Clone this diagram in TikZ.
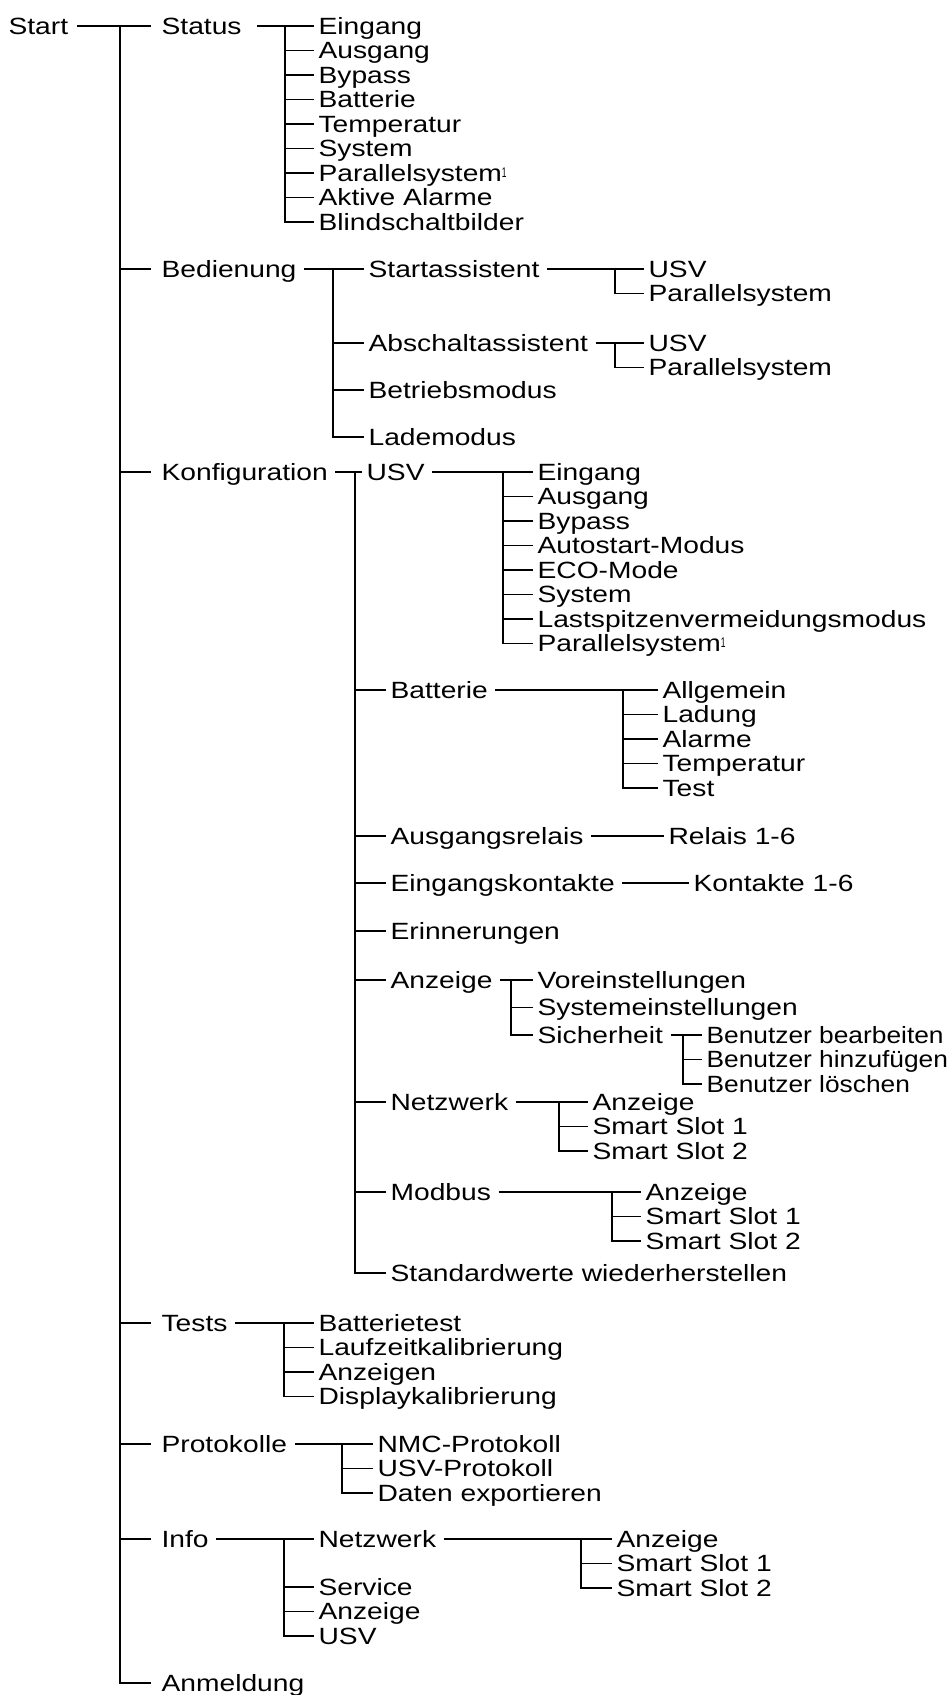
\documentclass[tikz,border=0pt]{standalone}
\usepackage{fontspec}
\setmainfont[FakeStretch=1.2]{Liberation Sans}
\newfontfamily\schmal[FakeStretch=1.12]{Liberation Sans}
\usepackage{tikz}
\usetikzlibrary{positioning}

\newcommand{\hochEins}{\raisebox{4pt}{\scalebox{0.5}[1]{\fontsize{14}{14}\selectfont 1}}}

\tikzset{
  item/.style={anchor=west, inner xsep=4pt, inner ysep=0pt,
    text height=21pt, text depth=4.2pt,
    font=\fontsize{23.5}{26}\selectfont},
  narrow/.style={font=\fontsize{23.5}{26}\schmal},
  under/.style={below=24.5pt of #1.west, anchor=west},
  link/.style={shorten <=3pt}
}

\begin{document}
\begin{tikzpicture}[line width=1.2pt]
        \useasboundingbox (0,0) rectangle (947pt,-1695pt);
        \node[item] (start) at (4pt,-26pt) {Start};

        % Hauptmenue
        \node[item, right=153pt of start.west] (status) {Status};
        \node[item, below=243pt of status.west, anchor=west] (bed) {Bedienung};
        \node[item, below=203pt of bed.west, anchor=west] (konf) {Konfiguration};
        \node[item, below=851pt of konf.west, anchor=west] (tests) {Tests};
        \node[item, below=121pt of tests.west, anchor=west] (prot) {Protokolle};
        \node[item, below=95pt of prot.west, anchor=west] (info) {Info};
        \node[item, below=144pt of info.west, anchor=west] (anm) {Anmeldung};

        % Status
        \node[item, right=157pt of status.west] (st1) {Eingang};
        \node[item, under=st1] (st2) {Ausgang};
        \node[item, under=st2] (st3) {Bypass};
        \node[item, under=st3] (st4) {Batterie};
        \node[item, under=st4] (st5) {Temperatur};
        \node[item, under=st5] (st6) {System};
        \node[item, under=st6] (st7) {Parallelsystem\hochEins};
        \node[item, under=st7] (st8) {Aktive Alarme};
        \node[item, under=st8] (st9) {Blindschaltbilder};

        % Bedienung
        \node[item, right=207pt of bed.west] (b1) {Startassistent};
        \node[item, below=74pt of b1.west, anchor=west] (b2) {Abschaltassistent};
        \node[item, below=47pt of b2.west, anchor=west] (b3) {Betriebsmodus};
        \node[item, below=47pt of b3.west, anchor=west] (b4) {Lademodus};
        \node[item, right=280pt of b1.west] (b1a) {USV};
        \node[item, under=b1a] (b1b) {Parallelsystem};
        \node[item, right=280pt of b2.west] (b2a) {USV};
        \node[item, under=b2a] (b2b) {Parallelsystem};

        % Konfiguration
        \node[item, right=205pt of konf.west] (k1) {USV};
        \node[item, below=218pt of k1.west, anchor=west, xshift=24pt] (k2) {Batterie};
        \node[item, below=146pt of k2.west, anchor=west] (k3) {Ausgangsrelais};
        \node[item, below=47pt of k3.west, anchor=west] (k4) {Eingangskontakte};
        \node[item, below=48pt of k4.west, anchor=west] (k5) {Erinnerungen};
        \node[item, below=49pt of k5.west, anchor=west] (k6) {Anzeige};
        \node[item, below=122pt of k6.west, anchor=west] (k7) {Netzwerk};
        \node[item, below=90pt of k7.west, anchor=west] (k8) {Modbus};
        \node[item, below=81pt of k8.west, anchor=west] (k9) {Standardwerte wiederherstellen};

        \node[item, right=171pt of k1.west] (u1) {Eingang};
        \node[item, under=u1] (u2) {Ausgang};
        \node[item, under=u2] (u3) {Bypass};
        \node[item, under=u3] (u4) {Autostart-Modus};
        \node[item, under=u4] (u5) {ECO-Mode};
        \node[item, under=u5] (u6) {System};
        \node[item, under=u6] (u7) {Lastspitzenvermeidungsmodus};
        \node[item, under=u7] (u8) {Parallelsystem\hochEins};

        \node[item, right=272pt of k2.west] (bt1) {Allgemein};
        \node[item, under=bt1] (bt2) {Ladung};
        \node[item, under=bt2] (bt3) {Alarme};
        \node[item, under=bt3] (bt4) {Temperatur};
        \node[item, under=bt4] (bt5) {Test};

        \node[item, right=278pt of k3.west] (rel) {Relais 1-6};
        \node[item, right=303pt of k4.west] (kon) {Kontakte 1-6};

        \node[item, right=147pt of k6.west] (a1) {Voreinstellungen};
        \node[item, below=27.5pt of a1.west, anchor=west] (a2) {Systemeinstellungen};
        \node[item, below=27.5pt of a2.west, anchor=west] (a3) {Sicherheit};
        \node[item, narrow, right=169pt of a3.west] (s1) {Benutzer bearbeiten};
        \node[item, narrow, under=s1] (s2) {Benutzer hinzufügen};
        \node[item, narrow, under=s2] (s3) {Benutzer löschen};

        \node[item, right=202pt of k7.west] (n1) {Anzeige};
        \node[item, under=n1] (n2) {Smart Slot 1};
        \node[item, under=n2] (n3) {Smart Slot 2};

        \node[item, right=255pt of k8.west] (m1) {Anzeige};
        \node[item, under=m1] (m2) {Smart Slot 1};
        \node[item, under=m2] (m3) {Smart Slot 2};

        % Tests, Protokolle, Info
        \node[item, right=157pt of tests.west] (t1) {Batterietest};
        \node[item, under=t1] (t2) {Laufzeitkalibrierung};
        \node[item, under=t2] (t3) {Anzeigen};
        \node[item, under=t3] (t4) {Displaykalibrierung};

        \node[item, right=216pt of prot.west] (p1) {NMC-Protokoll};
        \node[item, under=p1] (p2) {USV-Protokoll};
        \node[item, under=p2] (p3) {Daten exportieren};

        \node[item, right=157pt of info.west] (i1) {Netzwerk};
        \node[item, below=48pt of i1.west, anchor=west] (i2) {Service};
        \node[item, under=i2] (i3) {Anzeige};
        \node[item, under=i3] (i4) {USV};
        \node[item, right=298pt of i1.west] (in1) {Anzeige};
        \node[item, under=in1] (in2) {Smart Slot 1};
        \node[item, under=in2] (in3) {Smart Slot 2};

        % Verbindungen
        \draw[shorten <=4pt, shorten >=6pt] (start.east) -- (status.west);
        \draw ([xshift=-37pt]status.west) |- ([xshift=-6pt]anm.west);
        \draw ([xshift=-37pt]bed.west) -- ([xshift=-6pt]bed.west);
        \draw ([xshift=-37pt]konf.west) -- ([xshift=-6pt]konf.west);
        \draw ([xshift=-37pt]tests.west) -- ([xshift=-6pt]tests.west);
        \draw ([xshift=-37pt]prot.west) -- ([xshift=-6pt]prot.west);
        \draw ([xshift=-37pt]info.west) -- ([xshift=-6pt]info.west);

        \draw[shorten <=11pt] (status.east) -- (st1.west);
        \draw ([xshift=-29pt]st1.west) |- (st9.west);
        \draw (st2.west) -- ++(-29pt,0);
        \draw (st3.west) -- ++(-29pt,0);
        \draw (st4.west) -- ++(-29pt,0);
        \draw (st5.west) -- ++(-29pt,0);
        \draw (st6.west) -- ++(-29pt,0);
        \draw (st7.west) -- ++(-29pt,0);
        \draw (st8.west) -- ++(-29pt,0);

        \draw[link] (bed.east) -- (b1.west);
        \draw ([xshift=-31pt]b1.west) |- (b4.west);
        \draw (b2.west) -- ++(-31pt,0);
        \draw (b3.west) -- ++(-31pt,0);
        \draw[link] (b1.east) -- (b1a.west);
        \draw ([xshift=-29pt]b1a.west) |- (b1b.west);
        \draw[link] (b2.east) -- (b2a.west);
        \draw ([xshift=-29pt]b2a.west) |- (b2b.west);

        \draw[link] (konf.east) -- (k1.west);
        \draw ([xshift=-7pt]k1.west) |- (k9.west);
        \draw (k2.west) -- ++(-31pt,0);
        \draw (k3.west) -- ++(-31pt,0);
        \draw (k4.west) -- ++(-31pt,0);
        \draw (k5.west) -- ++(-31pt,0);
        \draw (k6.west) -- ++(-31pt,0);
        \draw (k7.west) -- ++(-31pt,0);
        \draw (k8.west) -- ++(-31pt,0);

        \draw[link] (k1.east) -- (u1.west);
        \draw ([xshift=-30pt]u1.west) |- (u8.west);
        \draw (u2.west) -- ++(-30pt,0);
        \draw (u3.west) -- ++(-30pt,0);
        \draw (u4.west) -- ++(-30pt,0);
        \draw (u5.west) -- ++(-30pt,0);
        \draw (u6.west) -- ++(-30pt,0);
        \draw (u7.west) -- ++(-30pt,0);

        \draw[link] (k2.east) -- (bt1.west);
        \draw ([xshift=-35pt]bt1.west) |- (bt5.west);
        \draw (bt2.west) -- ++(-35pt,0);
        \draw (bt3.west) -- ++(-35pt,0);
        \draw (bt4.west) -- ++(-35pt,0);

        \draw[link] (k3.east) -- (rel.west);
        \draw[link] (k4.east) -- (kon.west);

        \draw[link] (k6.east) -- (a1.west);
        \draw ([xshift=-22pt]a1.west) |- (a3.west);
        \draw (a2.west) -- ++(-22pt,0);
        \draw[link] (a3.east) -- (s1.west);
        \draw ([xshift=-19pt]s1.west) |- (s3.west);
        \draw (s2.west) -- ++(-19pt,0);

        \draw[link] (k7.east) -- (n1.west);
        \draw ([xshift=-29pt]n1.west) |- (n3.west);
        \draw (n2.west) -- ++(-29pt,0);

        \draw[link] (k8.east) -- (m1.west);
        \draw ([xshift=-29pt]m1.west) |- (m3.west);
        \draw (m2.west) -- ++(-29pt,0);

        \draw[link] (tests.east) -- (t1.west);
        \draw ([xshift=-30pt]t1.west) |- (t4.west);
        \draw (t2.west) -- ++(-30pt,0);
        \draw (t3.west) -- ++(-30pt,0);

        \draw[link] (prot.east) -- (p1.west);
        \draw ([xshift=-31pt]p1.west) |- (p3.west);
        \draw (p2.west) -- ++(-31pt,0);

        \draw[link] (info.east) -- (i1.west);
        \draw ([xshift=-30pt]i1.west) |- (i4.west);
        \draw (i2.west) -- ++(-30pt,0);
        \draw (i3.west) -- ++(-30pt,0);
        \draw[link] (i1.east) -- (in1.west);
        \draw ([xshift=-31pt]in1.west) |- (in3.west);
        \draw (in2.west) -- ++(-31pt,0);
\end{tikzpicture}
\end{document}
